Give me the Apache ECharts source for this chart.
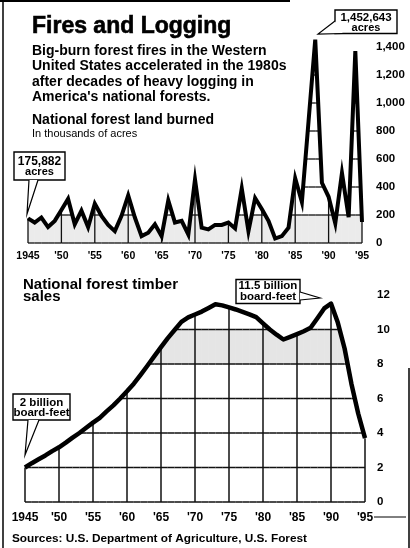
<!DOCTYPE html>
<html>
<head>
<meta charset="utf-8">
<title>Fires and Logging</title>
<script src="https://cdn.jsdelivr.net/npm/echarts@6/dist/echarts.min.js"></script>
<style>
html, body { margin: 0; padding: 0; background: #fff; }
#chart { width: 410px; height: 548px; }
</style>
</head>
<body>
<div id="chart"></div>
<script>
// years shared by both panels
var years = [1945, 1946, 1947, 1948, 1949, 1950, 1951, 1952, 1953, 1954,
	1955, 1956, 1957, 1958, 1959, 1960, 1961, 1962, 1963, 1964,
	1965, 1966, 1967, 1968, 1969, 1970, 1971, 1972, 1973, 1974,
	1975, 1976, 1977, 1978, 1979, 1980, 1981, 1982, 1983, 1984,
	1985, 1986, 1987, 1988, 1989, 1990, 1991, 1992, 1993, 1994, 1995];

// national forest land burned, thousands of acres
var acresBurned = [176, 146, 182, 114, 158, 236, 315, 134, 231, 114,
	280, 194, 129, 85, 194, 340, 182, 49, 73, 134,
	49, 304, 146, 158, 61, 454, 109, 97, 129, 129,
	146, 104, 389, 85, 321, 243, 158, 32, 49, 109,
	462, 292, 870, 1453, 430, 330, 140, 500, 185, 1370, 150];

// national forest timber sales, billion board-feet
var timberSales = [2.0, 2.25, 2.48, 2.7, 2.95, 3.17, 3.44, 3.73, 4.0, 4.3,
	4.6, 4.88, 5.25, 5.6, 6.0, 6.42, 6.86, 7.37, 7.9, 8.44,
	8.98, 9.5, 9.97, 10.44, 10.7, 10.87, 11.04, 11.25, 11.46, 11.4,
	11.28, 11.16, 11.02, 10.88, 10.72, 10.36, 10.0, 9.7, 9.42, 9.57,
	9.73, 9.9, 10.1, 10.65, 11.22, 11.5, 10.4, 8.9, 6.86, 5.13, 3.7];

var fireTicks = [0, 200, 400, 600, 800, 1000, 1200, 1400];
var timberTicks = [0, 2, 4, 6, 8, 10, 12];

var FONT = "'Liberation Sans', Arial, sans-serif";
var chart = echarts.init(document.getElementById('chart'));

function pairs(vals) {
	return years.map(function (y, i) { return [y, vals[i]]; });
}
function yearLabel(v) {
	return v === 1945 ? '1945' : "'" + String(v).slice(2);
}
function comma(v) {
	return String(v).replace(/\B(?=(\d{3})+(?!\d))/g, ',');
}

// grid lines + stipple bands, only under the curve (like the printed chart)
function gridRenderer(vals, levels, bands, lw) {
	return function (params, api) {
		var i = params.dataIndex;
		var kids = [];
		var x0 = years[i], v0 = vals[i];
		if (i < years.length - 1) {
			var x1 = years[i + 1], v1 = vals[i + 1];
			var at = function (x) { return v0 + (v1 - v0) * (x - x0) / (x1 - x0); };
			var cross = function (L) { return x0 + (L - v0) * (x1 - x0) / (v1 - v0); };
			bands.forEach(function (b) {
				var xs = [x0, x1];
				[b.lo, b.hi].forEach(function (L) {
					if ((v0 - L) * (v1 - L) < 0) xs.push(cross(L));
				});
				xs.sort(function (a, c) { return a - c; });
				var pts = [];
				xs.forEach(function (x) { pts.push(api.coord([x, b.lo])); });
				for (var k = xs.length - 1; k >= 0; k--) {
					var t = Math.max(b.lo, Math.min(b.hi, at(xs[k])));
					pts.push(api.coord([xs[k], t]));
				}
				kids.push({ type: 'polygon', shape: { points: pts }, style: { fill: b.color } });
			});
			levels.forEach(function (L) {
				var a = null, c = null;
				if (v0 >= L && v1 >= L) { a = x0; c = x1; }
				else if (v0 >= L) { a = x0; c = cross(L); }
				else if (v1 >= L) { a = cross(L); c = x1; }
				if (a !== null) {
					var p = api.coord([a, L]), q = api.coord([c, L]);
					kids.push({ type: 'line', shape: { x1: p[0], y1: p[1], x2: q[0], y2: q[1] },
						style: { stroke: '#111', lineWidth: lw } });
				}
			});
		}
		if (x0 % 5 === 0) {
			var p0 = api.coord([x0, 0]), q0 = api.coord([x0, v0]);
			kids.push({ type: 'line', shape: { x1: p0[0], y1: p0[1], x2: q0[0], y2: q0[1] },
				style: { stroke: '#111', lineWidth: lw } });
		}
		return { type: 'group', children: kids };
	};
}

function txt(x, y, s, font, align, heavy) {
	return {
		type: 'text', x: x, y: y, z: 100, silent: true,
		style: {
			text: s, font: font, fill: '#000',
			align: align || 'left', verticalAlign: 'middle',
			textAlign: align || 'left', textVerticalAlign: 'middle',
			stroke: heavy ? '#000' : null, lineWidth: heavy || 0
		}
	};
}
function box(x, y, w, h) {
	return { type: 'rect', z: 100, silent: true, shape: { x: x, y: y, width: w, height: h },
		style: { fill: '#fff', stroke: '#000', lineWidth: 1.4 } };
}
function tail(p1, tip, p2) {
	return [
		{ type: 'polygon', z: 101, silent: true, shape: { points: [p1, tip, p2] }, style: { fill: '#fff' } },
		{ type: 'polyline', z: 102, silent: true, shape: { points: [p1, tip, p2] },
			style: { stroke: '#000', lineWidth: 1.2, fill: null } }
	];
}
function line(pts, w) {
	return { type: 'polyline', z: 100, silent: true, shape: { points: pts },
		style: { stroke: '#000', lineWidth: w || 1.5, fill: null } };
}

var graphics = [
	line([[0, 1], [290, 1]], 2),
	line([[3, 0], [3, 548]], 1.5),
	line([[409, 368], [409, 548]], 1.5),
	line([[374, 517], [406, 517]], 1),
	txt(32, 27, 'Fires and Logging', 'bold 23px ' + FONT, 'left', 0.6),
	txt(32, 51, 'Big-burn forest fires in the Western', 'bold 14px ' + FONT),
	txt(32, 66.5, 'United States accelerated in the 1980s', 'bold 14px ' + FONT),
	txt(32, 82, 'after decades of heavy logging in', 'bold 14px ' + FONT),
	txt(32, 97, "America's national forests.", 'bold 14px ' + FONT),
	txt(32, 120, 'National forest land burned', 'bold 14px ' + FONT),
	txt(32, 134, 'In thousands of acres', '11px ' + FONT),
	txt(23, 284.5, 'National forest timber', 'bold 15px ' + FONT),
	txt(23, 297, 'sales', 'bold 15px ' + FONT),
	txt(12, 538.5, 'Sources: U.S. Department of Agriculture, U.S. Forest', 'bold 11.8px ' + FONT),

	box(14, 152, 51, 28),
	txt(39.5, 161.5, '175,882', 'bold 12px ' + FONT, 'center'),
	txt(39.5, 172, 'acres', 'bold 11px ' + FONT, 'center'),

	box(335, 10, 62, 23.5),
	txt(366, 17.5, '1,452,643', 'bold 11.5px ' + FONT, 'center'),
	txt(366, 27.5, 'acres', 'bold 11px ' + FONT, 'center'),

	box(13, 394, 57, 26),
	txt(41.5, 402.5, '2 billion', 'bold 11.5px ' + FONT, 'center'),
	txt(41.5, 413, 'board-feet', 'bold 11.5px ' + FONT, 'center'),

	box(236, 279.5, 64, 24),
	txt(268, 286, '11.5 billion', 'bold 11.5px ' + FONT, 'center'),
	txt(268, 297, 'board-feet', 'bold 11.5px ' + FONT, 'center')
];
graphics = graphics
	.concat(tail([29, 180], [27, 214], [38, 180]))
	.concat(tail([335, 21], [318, 34], [343, 33.5]))
	.concat(tail([28, 420], [25, 455], [39, 420]))
	.concat(tail([300, 292], [320, 298], [300, 300]));

var xCommon = {
	type: 'value', min: 1945, max: 1995, interval: 5,
	axisLine: { show: false }, axisTick: { show: false },
	splitLine: { show: false }
};

var option = {
	backgroundColor: '#fff',
	animation: false,
	grid: [
		{ left: 28, right: 48, top: 19, bottom: 305 },
		{ left: 25, right: 45, top: 295, bottom: 46 }
	],
	xAxis: [
		Object.assign({}, xCommon, {
			gridIndex: 0,
			axisLabel: { formatter: yearLabel, fontFamily: FONT, fontWeight: 'bold', fontSize: 10.5, color: '#000', margin: 8 }
		}),
		Object.assign({}, xCommon, {
			gridIndex: 1,
			axisLabel: { formatter: yearLabel, fontFamily: FONT, fontWeight: 'bold', fontSize: 12, color: '#000', margin: 10 }
		})
	],
	yAxis: [
		{
			gridIndex: 0, type: 'value', position: 'right', min: 0, max: 1600, interval: 200,
			axisLine: { show: false }, axisTick: { show: false }, splitLine: { show: false },
			axisLabel: {
				margin: 14, fontFamily: FONT, fontWeight: 'bold', fontSize: 11.5, color: '#000',
				formatter: function (v) { return fireTicks.indexOf(v) >= 0 ? comma(v) : ''; }
			}
		},
		{
			gridIndex: 1, type: 'value', position: 'right', min: 0, max: 12, interval: 2,
			axisLine: { show: false }, axisTick: { show: false }, splitLine: { show: false },
			axisLabel: {
				margin: 12, fontFamily: FONT, fontWeight: 'bold', fontSize: 11.5, color: '#000',
				formatter: function (v) { return timberTicks.indexOf(v) >= 0 ? String(v) : ''; }
			}
		}
	],
	series: [
		{
			type: 'custom', xAxisIndex: 0, yAxisIndex: 0, z: 1, silent: true,
			data: pairs(acresBurned), encode: { x: 0, y: 1 },
			renderItem: gridRenderer(acresBurned, fireTicks,
				[{ lo: 0, hi: 200, color: 'rgba(0,0,0,0.08)' }], 1.3)
		},
		{
			type: 'custom', xAxisIndex: 1, yAxisIndex: 1, z: 1, silent: true,
			data: pairs(timberSales), encode: { x: 0, y: 1 },
			renderItem: gridRenderer(timberSales, timberTicks.slice(0, 6),
				[{ lo: 8, hi: 10, color: 'rgba(0,0,0,0.1)' }], 1.5)
		},
		{
			name: 'Land burned', type: 'line', xAxisIndex: 0, yAxisIndex: 0, z: 3, symbol: 'none',
			data: pairs(acresBurned),
			lineStyle: { color: '#000', width: 4, join: 'miter' }
		},
		{
			name: 'Timber sales', type: 'line', xAxisIndex: 1, yAxisIndex: 1, z: 3, symbol: 'none',
			data: pairs(timberSales),
			lineStyle: { color: '#000', width: 4.5, join: 'round' }
		}
	],
	graphic: graphics
};
chart.setOption(option);
</script>
</body>
</html>
